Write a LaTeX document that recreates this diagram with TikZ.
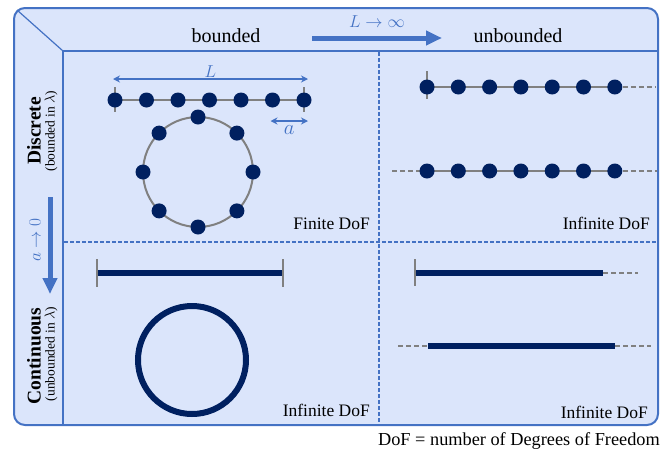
\documentclass[tikz,border=0pt]{standalone}
\usepackage{fontspec}
\setmainfont{Liberation Serif}
\usepackage{amsmath}
\usetikzlibrary{positioning,arrows.meta,calc}
\definecolor{panelfill}{RGB}{219,229,251}
\definecolor{framecol}{RGB}{68,114,196}
\definecolor{sitecol}{RGB}{0,32,96}
\definecolor{bondcol}{RGB}{128,128,128}

\begin{document}
\begin{tikzpicture}[
  x=1pt, y=-1pt,
  site/.style    = {circle, fill=sitecol, minimum size=15pt, inner sep=0pt},
  bond/.style    = {bondcol, line width=2pt},
  tail/.style    = {bondcol, line width=2pt, dash pattern=on 5pt off 3pt},
  wall/.style    = {bondcol, line width=2pt},
  field/.style   = {sitecol, line width=6pt},
  grid/.style    = {framecol, line width=1.2pt, dash pattern=on 4pt off 2pt},
  limarrow/.style= {framecol, line width=5pt,
                    -{Triangle[length=16pt,width=14pt]}},
  span/.style    = {framecol, line width=1.8pt,
                    {Stealth[length=7pt,width=7pt]}-{Stealth[length=7pt,width=7pt]}},
  head/.style    = {font=\fontsize{20}{22}\selectfont},
  regime/.style  = {rotate=90, font=\fontsize{19.5}{21}\selectfont\bfseries},
  hint/.style    = {rotate=90, font=\fontsize{13.5}{15}\selectfont},
  dof/.style     = {font=\fontsize{17.5}{19}\selectfont, anchor=base east, inner sep=0pt},
  lbl/.style     = {text=framecol, inner sep=1pt}
]
\useasboundingbox (0,0) rectangle (661,453);

% frame and table lines
\draw[framecol, line width=2pt, fill=panelfill, rounded corners=11pt]
  (14,8) rectangle (658,425);
\draw[framecol, line width=1.5pt] (63,51) -- (657,51);
\draw[framecol, line width=1.5pt] (63,51) -- (63,424);
\draw[framecol, line width=1.2pt] (17,10) -- (63,51);
\draw[grid] (379,52) -- (379,424);
\draw[grid] (64,242) -- (657,242);

% headers
\node[head] (bnd) at (226,36) {bounded};
\node[head] (unb) at (518,36) {unbounded};
\coordinate (lim0) at (312,38);
\coordinate (lim1) at (442,38);
\draw[limarrow] (lim0) -- (lim1);
\node[lbl, font=\fontsize{17}{19}\selectfont] (Linf) at (377,22) {$L\to\infty$};

\node[regime] (disc) at (34,131) {Discrete};
\node[hint]   (discin) at (51,131) {(bounded in $\lambda$)};
\node[regime] (cont) at (34,356) {Continuous};
\node[hint]   (contin) at (51,354) {(unbounded in $\lambda$)};
\coordinate (az0) at (50,197);
\coordinate (az1) at (50,294);
\draw[limarrow] (az0) -- (az1);
\node[lbl, rotate=90, font=\fontsize{17}{19}\selectfont] (azero) at (35,240) {$a\to0$};

% discrete, bounded
\foreach \i in {1,...,7}
  \coordinate (p\i) at ({115+31.5*(\i-1)},100);
\draw[bond] (p1) -- (p7);
\foreach \i in {p1,p7}
  \draw[wall] ($(\i)+(0,-13)$) -- ($(\i)+(0,12)$);
\foreach \i in {1,...,7}
  \node[site] (ps\i) at (p\i) {};
\draw[span] ($(p1)+(-2,-21)$) -- ($(p7)+(4,-21)$)
  node[lbl, midway, above, font=\fontsize{17}{19}\selectfont] (Llen) {$L$};
\draw[span] ($(p6)+(-2,21)$) -- ($(p7)+(4,21)$)
  node[lbl, midway, below=3pt, font=\fontsize{20}{22}\selectfont] (alen) {$a$};

\coordinate (ring) at (198,172);
\draw[bond] (ring) circle[radius=55pt];
\foreach \a in {0,45,...,315}
  \node[site] (r\a) at ($(ring)+(\a:55pt)$) {};
\node[dof] (fdof) at (370,229) {Finite DoF};

% discrete, unbounded
\foreach \i in {1,...,7}{
  \coordinate (h\i) at ({427+31.3*(\i-1)},87);
  \coordinate (c\i) at ({427+31.3*(\i-1)},171);
}
\coordinate (hend) at (655,87);
\coordinate (cbeg) at (392,171);
\coordinate (cend) at (657,171);
\draw[bond] (h1) -- (h7);
\draw[tail] (h7) -- (hend);
\draw[wall] ($(h1)+(0,-16)$) -- ($(h1)+(0,12)$);
\draw[tail] (cbeg) -- (c1);
\draw[bond] (c1) -- (c7);
\draw[tail] (c7) -- (cend);
\foreach \i in {1,...,7}{
  \node[site] (hs\i) at (h\i) {};
  \node[site] (cs\i) at (c\i) {};
}
\node[dof] (idof1) at (650,229) {Infinite DoF};

% continuous, bounded
\coordinate (s0) at (97,273);
\coordinate (s1) at (283,273);
\draw[field] (s0) -- (s1);
\foreach \i in {s0,s1}
  \draw[wall] ($(\i)+(0,-14)$) -- ($(\i)+(0,14)$);
\coordinate (loop) at (192,360);
\draw[field] (loop) circle[radius=54pt];
\node[dof] (idof2) at (370,416) {Infinite DoF};

% continuous, unbounded
\coordinate (u0) at (415,273);
\coordinate (u1) at (603,273);
\coordinate (u2) at (638,273);
\draw[field] (u0) -- (u1);
\draw[tail] (u1) -- (u2);
\draw[wall] ($(u0)+(0,-14)$) -- ($(u0)+(0,13)$);
\coordinate (v0) at (398,346);
\coordinate (v1) at (428,346);
\coordinate (v2) at (615,346);
\coordinate (v3) at (651,346);
\draw[tail] (v0) -- (v1);
\draw[field] (v1) -- (v2);
\draw[tail] (v2) -- (v3);
\node[dof] (idof3) at (648,418) {Infinite DoF};

\node[dof, font=\fontsize{18.3}{20}\selectfont] (note) at (660,445)
  {DoF = number of Degrees of Freedom};
\end{tikzpicture}
\end{document}
